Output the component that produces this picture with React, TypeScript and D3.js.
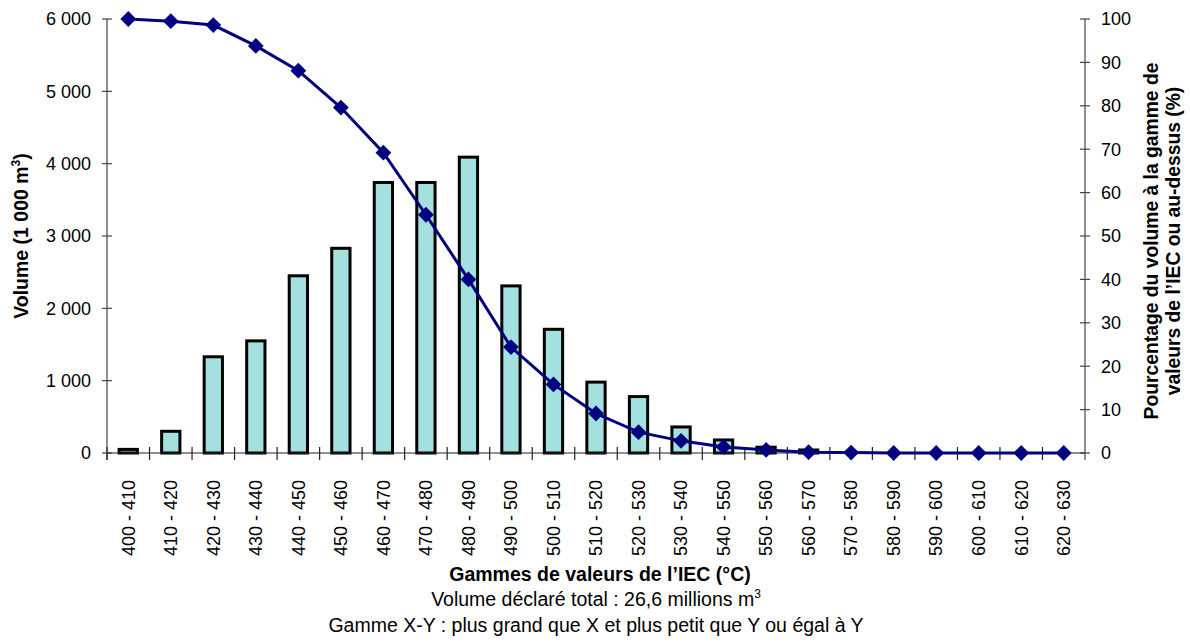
import * as d3 from "d3";

const ranges = [
  "400 - 410", "410 - 420", "420 - 430", "430 - 440", "440 - 450", "450 - 460",
  "460 - 470", "470 - 480", "480 - 490", "490 - 500", "500 - 510", "510 - 520",
  "520 - 530", "530 - 540", "540 - 550", "550 - 560", "560 - 570", "570 - 580",
  "580 - 590", "590 - 600", "600 - 610", "610 - 620", "620 - 630",
];

// volume (1 000 m3) per IEC range
const volumes = [
  50, 300, 1330, 1550, 2450, 2830, 3740, 3740, 4090, 2310, 1710, 980,
  780, 360, 180, 80, 40, 0, 0, 0, 0, 0, 0,
];

// % of volume in range or above
const percents = [
  100, 99.5, 98.6, 93.8, 88.1, 79.6, 69.2, 54.9, 40.0, 24.4, 15.8, 9.1,
  4.8, 2.8, 1.4, 0.7, 0.2, 0.1, 0, 0, 0, 0, 0,
];

const leftTicks = [0, 1000, 2000, 3000, 4000, 5000, 6000];
const rightTicks = [0, 10, 20, 30, 40, 50, 60, 70, 80, 90, 100];

const W = 1190;
const H = 642;
const m = { left: 107, right: 1085, top: 19, bottom: 453 };
const font = "'Liberation Sans', Arial, sans-serif";

const fmt = (v: number) => (v >= 1000 ? `${Math.floor(v / 1000)} ${String(v % 1000).padStart(3, "0")}` : `${v}`);

export default function App() {
  const x = d3.scaleBand().domain(ranges).range([m.left, m.right]).padding(0);
  const yL = d3.scaleLinear().domain([0, 6000]).range([m.bottom, m.top]);
  const yR = d3.scaleLinear().domain([0, 100]).range([m.bottom, m.top]);
  const bw = x.bandwidth() * 0.43;
  const cx = (c: string) => (x(c) ?? 0) + x.bandwidth() / 2;

  const line = d3.line<number>()
    .x((_, i) => cx(ranges[i]))
    .y((d) => yR(d));
  const diamond = d3.symbol(d3.symbolSquare, 125)();

  return (
    <svg width={W} height={H} style={{ position: "absolute", left: 0, top: 0 }} fontFamily={font}>
      <rect width={W} height={H} fill="#fff" />

      {/* bars */}
      {ranges.map((c, i) => {
        if (volumes[i] <= 0) return null;
        const top = Math.min(yL(volumes[i]), m.bottom - 3);
        return (
          <rect key={c} x={cx(c) - bw / 2} y={top} width={bw} height={m.bottom - top}
            fill="#a4e0e0" stroke="#000" strokeWidth={3} />
        );
      })}

      {/* left axis */}
      <line x1={m.left} x2={m.left} y1={m.top} y2={m.bottom + 7} stroke="#444" strokeWidth={1.2} />
      {leftTicks.map((t) => (
        <g key={t}>
          <line x1={m.left - 5} x2={m.left + 5} y1={yL(t)} y2={yL(t)} stroke="#444" strokeWidth={1.2} />
          <text x={91} y={yL(t)} dy="0.35em" textAnchor="end" fontSize={18} fill="#000">{fmt(t)}</text>
        </g>
      ))}

      {/* right axis */}
      <line x1={m.right} x2={m.right} y1={m.top} y2={m.bottom + 7} stroke="#444" strokeWidth={1.2} />
      {rightTicks.map((t) => (
        <g key={t}>
          <line x1={m.right - 5} x2={m.right + 5} y1={yR(t)} y2={yR(t)} stroke="#444" strokeWidth={1.2} />
          <text x={1101} y={yR(t)} dy="0.35em" textAnchor="start" fontSize={18} fill="#000">{t}</text>
        </g>
      ))}

      {/* x axis */}
      <line x1={m.left} x2={m.right} y1={m.bottom} y2={m.bottom} stroke="#222" strokeWidth={1.2} />
      {ranges.map((c) => (
        <line key={"t" + c} x1={x(c) ?? 0} x2={x(c) ?? 0} y1={m.bottom - 6} y2={m.bottom + 7} stroke="#222" strokeWidth={1.2} />
      ))}
      {ranges.map((c) => (
        <text key={"l" + c} transform={`translate(${cx(c)},480) rotate(-90)`} dy="0.35em"
          textAnchor="end" fontSize={18} fill="#000">{c}</text>
      ))}

      {/* cumulative line */}
      <path d={line(percents) ?? ""} fill="none" stroke="#000080" strokeWidth={3} />
      {ranges.map((c, i) => (
        <path key={"d" + c} d={diamond ?? ""} fill="#000080"
          transform={`translate(${cx(c)},${yR(percents[i])}) rotate(45)`} />
      ))}

      {/* titles */}
      <text transform="translate(28,236) rotate(-90)" textAnchor="middle" fontSize={19.5} fontWeight="bold">
        Volume (1 000 m<tspan dy={-8} fontSize={12}>3</tspan><tspan dy={8}>)</tspan>
      </text>
      <text transform="translate(1158,241) rotate(-90)" textAnchor="middle" fontSize={19.3} fontWeight="bold">
        Pourcentage du volume à la gamme de
      </text>
      <text transform="translate(1180,241) rotate(-90)" textAnchor="middle" fontSize={19.3} fontWeight="bold">
        valeurs de l’IEC ou au-dessus (%)
      </text>
      <text x={600} y={581} textAnchor="middle" fontSize={19.5} fontWeight="bold">Gammes de valeurs de l’IEC (°C)</text>
      <text x={596} y={606} textAnchor="middle" fontSize={19.5}>
        Volume déclaré total : 26,6 millions m<tspan dy={-8} fontSize={12}>3</tspan>
      </text>
      <text x={596} y={632} textAnchor="middle" fontSize={19.5}>
        Gamme X-Y : plus grand que X et plus petit que Y ou égal à Y
      </text>
    </svg>
  );
}
